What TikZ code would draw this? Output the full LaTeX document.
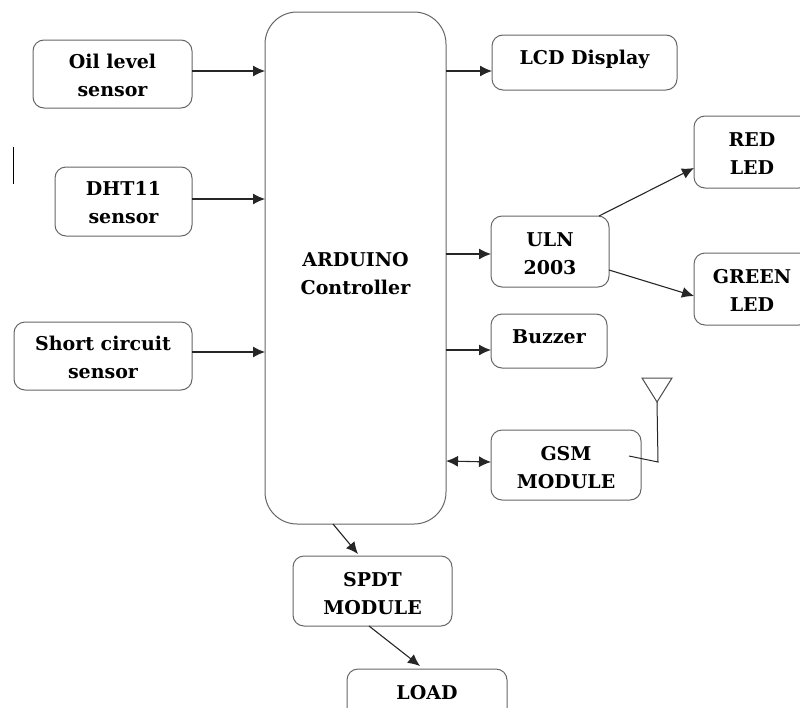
\documentclass[tikz,border=0pt]{standalone}
\usepackage{fontspec}
\setmainfont{DejaVu Serif}
\usepackage{tikz}
\usetikzlibrary{arrows.meta,positioning,calc}
\newcommand{\tline}[2][-8pt]{\raisebox{#1}[0pt][0pt]{#2}}

\begin{document}
\begin{tikzpicture}[>={Latex[length=12pt,width=11pt]},
 s/.style={draw=black!60,line width=1pt,rounded corners=11pt,align=center,outer sep=0pt,inner sep=0pt,
  font=\fontsize{19}{28}\selectfont\bfseries},
 ln/.style={draw=black!85,line width=1.1pt}]
\useasboundingbox (0,0) rectangle (800pt,-707pt);
\clip (0,0) rectangle (800pt,-707pt);
\node[s,rounded corners=32pt,minimum width=181pt,minimum height=512pt] (ctrl) at (355.5pt,-268pt) {\tline[-12pt]{ARDUINO}\\\tline[-12pt]{Controller}};
% inputs
\node[s,minimum width=159pt,minimum height=68pt,below left=28pt and 73pt of ctrl.north west] (oil) {\tline{Oil level}\\\tline{sensor}};
\node[s,minimum width=137pt,minimum height=69pt,below left=155pt and 73pt of ctrl.north west] (dht) {\tline{DHT11}\\\tline{sensor}};
\node[s,minimum width=178pt,minimum height=68pt,below left=310pt and 73pt of ctrl.north west] (short) {\tline{Short circuit}\\\tline{sensor}};
% outputs
\node[s,minimum width=185pt,minimum height=55pt,below right=23pt and 46pt of ctrl.north east] (lcd) {\tline[-1.5pt]{LCD Display}};
\node[s,minimum width=118pt,minimum height=71pt,below right=204pt and 45pt of ctrl.north east] (uln) {\tline[-8.5pt]{ULN}\\\tline[-8.5pt]{2003}};
\node[s,minimum width=116pt,minimum height=54pt,below right=27pt and 0pt of uln.south west] (buzzer) {\tline[-2pt]{Buzzer}};
\node[s,minimum width=150pt,minimum height=70pt,below right=62pt and 0pt of buzzer.south west] (gsm) {\tline[-9pt]{GSM}\\\tline[-9pt]{MODULE}};
\node[s,minimum width=116pt,minimum height=72pt,above right=28pt and 85pt of uln.north east] (red) {\tline{RED}\\\tline{LED}};
\node[s,minimum width=116pt,minimum height=72pt,below right=37pt and 85pt of uln.north east] (green) {\tline{GREEN}\\\tline{LED}};
\node[s,minimum width=159pt,minimum height=70pt,below right=32pt and 28pt of ctrl.south west] (spdt) {\tline[-9pt]{SPDT}\\\tline[-9pt]{MODULE}};
\node[s,minimum width=160pt,minimum height=70pt,below right=43pt and 54pt of spdt.south west] (load) {\tline[-9pt]{LOAD}\\~};
\draw[->,ln] ([yshift=3pt]oil.east)--([yshift=3pt]oil.east -| ctrl.west);
\draw[->,ln] ([yshift=2.5pt]dht.east)--([yshift=2.5pt]dht.east -| ctrl.west);
\draw[->,ln] ([yshift=4pt]short.east)--([yshift=4pt]short.east -| ctrl.west);
\draw[->,ln] ([yshift=-8.5pt]lcd.west -| ctrl.east)--([yshift=-8.5pt]lcd.west);
\draw[->,ln] ([yshift=-2.5pt]uln.west -| ctrl.east)--([yshift=-2.5pt]uln.west);
\draw[->,ln] ([yshift=-9pt]buzzer.west -| ctrl.east)--([yshift=-9pt]buzzer.west);
\draw[<->,ln] ([yshift=4pt]gsm.west -| ctrl.east)--([yshift=3pt]gsm.west);
\draw[->,ln] ([xshift=108pt]uln.north west)--([yshift=-16pt]red.west);
\draw[->,ln] ([yshift=-18.5pt]uln.east)--([yshift=-7pt]green.west);
\draw[->,ln] ([xshift=68pt]ctrl.south west)--([xshift=65pt,yshift=2pt]spdt.north west);
\draw[->,ln] ([xshift=76pt]spdt.south west)--([xshift=73pt,yshift=3pt]load.north west);
% antenna
\coordinate (anttop) at ([xshift=166pt,yshift=52pt]gsm.north west);
\coordinate (antfoot) at ([xshift=167pt,yshift=-32pt]gsm.north west);
\coordinate (antin) at ([xshift=138pt,yshift=-26pt]gsm.north west);
\draw[black!70,line width=1pt] (anttop)++(-15pt,0pt)--++(30pt,0pt)--++(-15pt,-24pt)--cycle;
\draw[black!85,line width=1pt] ($(anttop)+(0pt,-24pt)$)--(antfoot)--(antin);
% stray mark
\draw[black,line width=1pt] (13pt,-147pt)--(13pt,-184pt);
\end{tikzpicture}
\end{document}
